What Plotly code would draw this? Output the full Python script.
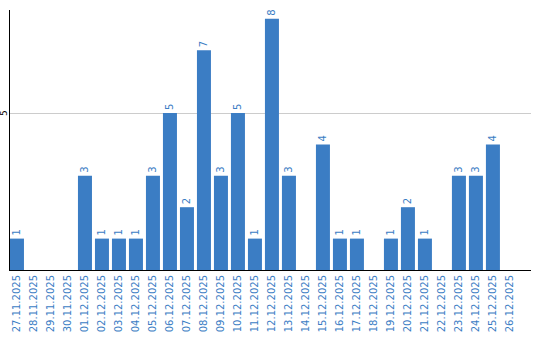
import plotly.graph_objects as go

dates = ["27.11.2025","28.11.2025","29.11.2025","30.11.2025","01.12.2025","02.12.2025",
         "03.12.2025","04.12.2025","05.12.2025","06.12.2025","07.12.2025","08.12.2025",
         "09.12.2025","10.12.2025","11.12.2025","12.12.2025","13.12.2025","14.12.2025",
         "15.12.2025","16.12.2025","17.12.2025","18.12.2025","19.12.2025","20.12.2025",
         "21.12.2025","22.12.2025","23.12.2025","24.12.2025","25.12.2025","26.12.2025"]
counts = [1,0,0,0,3,1,1,1,3,5,2,7,3,5,1,8,3,0,4,1,1,0,1,2,1,0,3,3,4,0]
labels = [str(v) if v else "" for v in counts]
y_ticks = [5]

blue = "#3b7dc4"
fig = go.Figure(go.Bar(
    x=dates, y=counts, text=labels, textposition="outside", textangle=-90,
    textfont=dict(family="DejaVu Sans", size=10, color=blue),
    marker=dict(color=blue, line=dict(width=0)), cliponaxis=False,
    constraintext="none", hoverinfo="skip"))

for t in y_ticks:
    fig.add_annotation(x=0, xref="paper", y=t, yref="y", text=str(t), showarrow=False,
                       textangle=-90, xanchor="center", yanchor="middle", xshift=-6,
                       font=dict(family="DejaVu Sans", size=9, color="black"))

fig.update_layout(
    width=540, height=340, margin=dict(l=10, r=9, t=10, b=70),
    paper_bgcolor="white", plot_bgcolor="white", bargap=0.176, showlegend=False,
    font=dict(family="DejaVu Sans", size=10),
    xaxis=dict(type="category", range=[-0.41, 30.24], tickangle=-90, automargin=False,
               tickfont=dict(family="DejaVu Sans", size=10, color=blue),
               showline=True, linecolor="black", linewidth=1, showgrid=False,
               ticks="", zeroline=False),
    yaxis=dict(range=[0, 8.28], tickvals=y_ticks, showticklabels=False, automargin=False,
               showline=True, linecolor="black", linewidth=1, showgrid=True,
               gridcolor="#cccccc", gridwidth=1, zeroline=False, ticks=""),
)
fig.write_html("out.html")
